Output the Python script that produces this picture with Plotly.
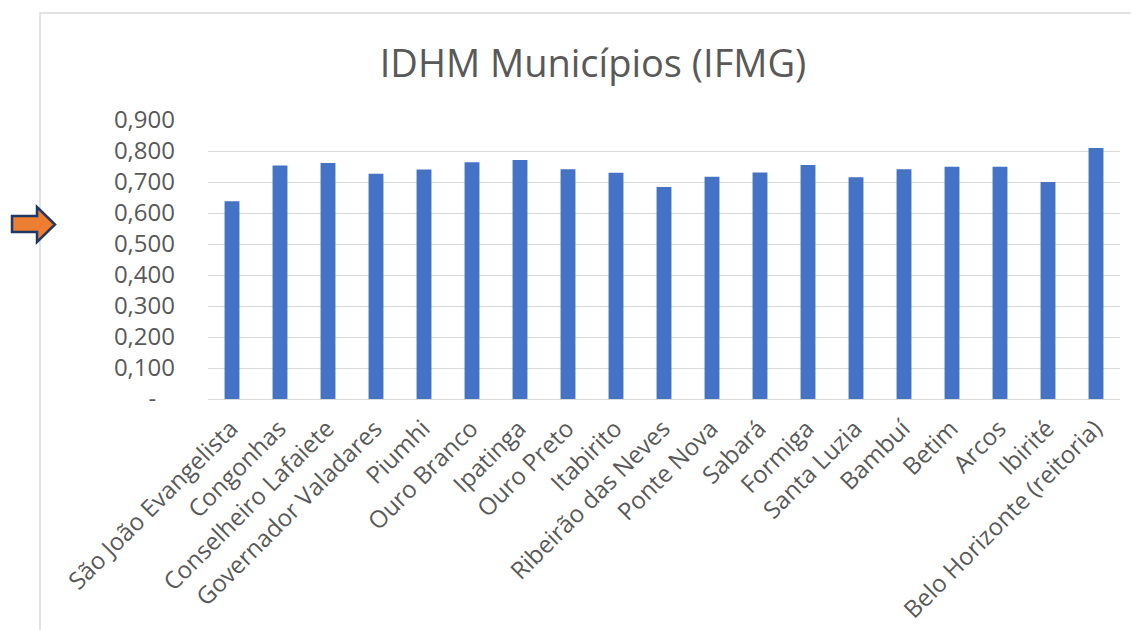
import plotly.graph_objects as go

municipios = ["São João Evangelista", "Congonhas", "Conselheiro Lafaiete", "Governador Valadares",
              "Piumhi", "Ouro Branco", "Ipatinga", "Ouro Preto", "Itabirito", "Ribeirão das Neves",
              "Ponte Nova", "Sabará", "Formiga", "Santa Luzia", "Bambuí", "Betim", "Arcos",
              "Ibirité", "Belo Horizonte (reitoria)"]
idhm = [0.638, 0.753, 0.761, 0.727, 0.740, 0.764, 0.771, 0.741, 0.730, 0.684,
        0.717, 0.731, 0.755, 0.715, 0.741, 0.749, 0.749, 0.700, 0.810]
y_tickvals = [0, 0.1, 0.2, 0.3, 0.4, 0.5, 0.6, 0.7, 0.8, 0.9]
y_ticktext = ["-\u00a0\u00a0\u00a0", "0,100", "0,200", "0,300", "0,400", "0,500",
              "0,600", "0,700", "0,800", "0,900"]

# page body adds an 8px offset; work in screen pixels and subtract it
OFF = 8
W, H = 1139 - OFF, 630 - OFF
L, R, T, B = 208 - OFF, 1120 - OFF, 120 - OFF, 399 - OFF
PW, PH = R - L, B - T

def px(x):
    return (x - OFF - L) / PW

def py(y):
    return (B - (y - OFF)) / PH

TXT = "#595959"
fig = go.Figure(go.Bar(x=municipios, y=idhm, marker_color="#4472C4", marker_line_width=0))

arrow_pts = [(12, 216), (37, 216), (37, 207), (55, 224.5), (37, 242), (37, 232), (12, 232)]
path = "M " + " L ".join(f"{px(x):.5f},{py(y):.5f}" for x, y in arrow_pts) + " Z"

fig.update_layout(
    width=W, height=H,
    margin=dict(l=L, r=W - R, t=T, b=H - B, autoexpand=False),
    paper_bgcolor="white", plot_bgcolor="white",
    bargap=0.69,
    showlegend=False,
    font=dict(family="Open Sans", color=TXT, size=24),
    title=dict(text="IDHM Municípios (IFMG)", x=(593 - OFF) / W, xref="container", xanchor="center",
               y=1 - (64 - OFF) / H, yref="container", yanchor="middle",
               font=dict(family="Open Sans", size=38, color=TXT)),
    xaxis=dict(tickangle=-45, showgrid=False, showline=True, linecolor="#d9d9d9", linewidth=1,
               tickfont=dict(size=24, color=TXT), automargin=False, ticks="",
               ticklabelshift=-1, ticklabelstandoff=5),
    yaxis=dict(range=[0, 0.9], tickvals=y_tickvals, ticktext=y_ticktext, showgrid=True,
               gridcolor="#d9d9d9", gridwidth=1, zeroline=False, showline=False,
               tickfont=dict(size=24, color=TXT), automargin=False, ticklabelstandoff=32),
    shapes=[
        dict(type="rect", xref="paper", yref="paper", x0=px(40), x1=px(1150), y0=py(640), y1=py(13),
             line=dict(color="#d9d9d9", width=1.5), fillcolor="rgba(0,0,0,0)", layer="below"),
        dict(type="path", xref="paper", yref="paper", path=path, fillcolor="#ED7D31",
             line=dict(color="#1F3864", width=2.5)),
    ],
)

fig.write_html("out.html")
